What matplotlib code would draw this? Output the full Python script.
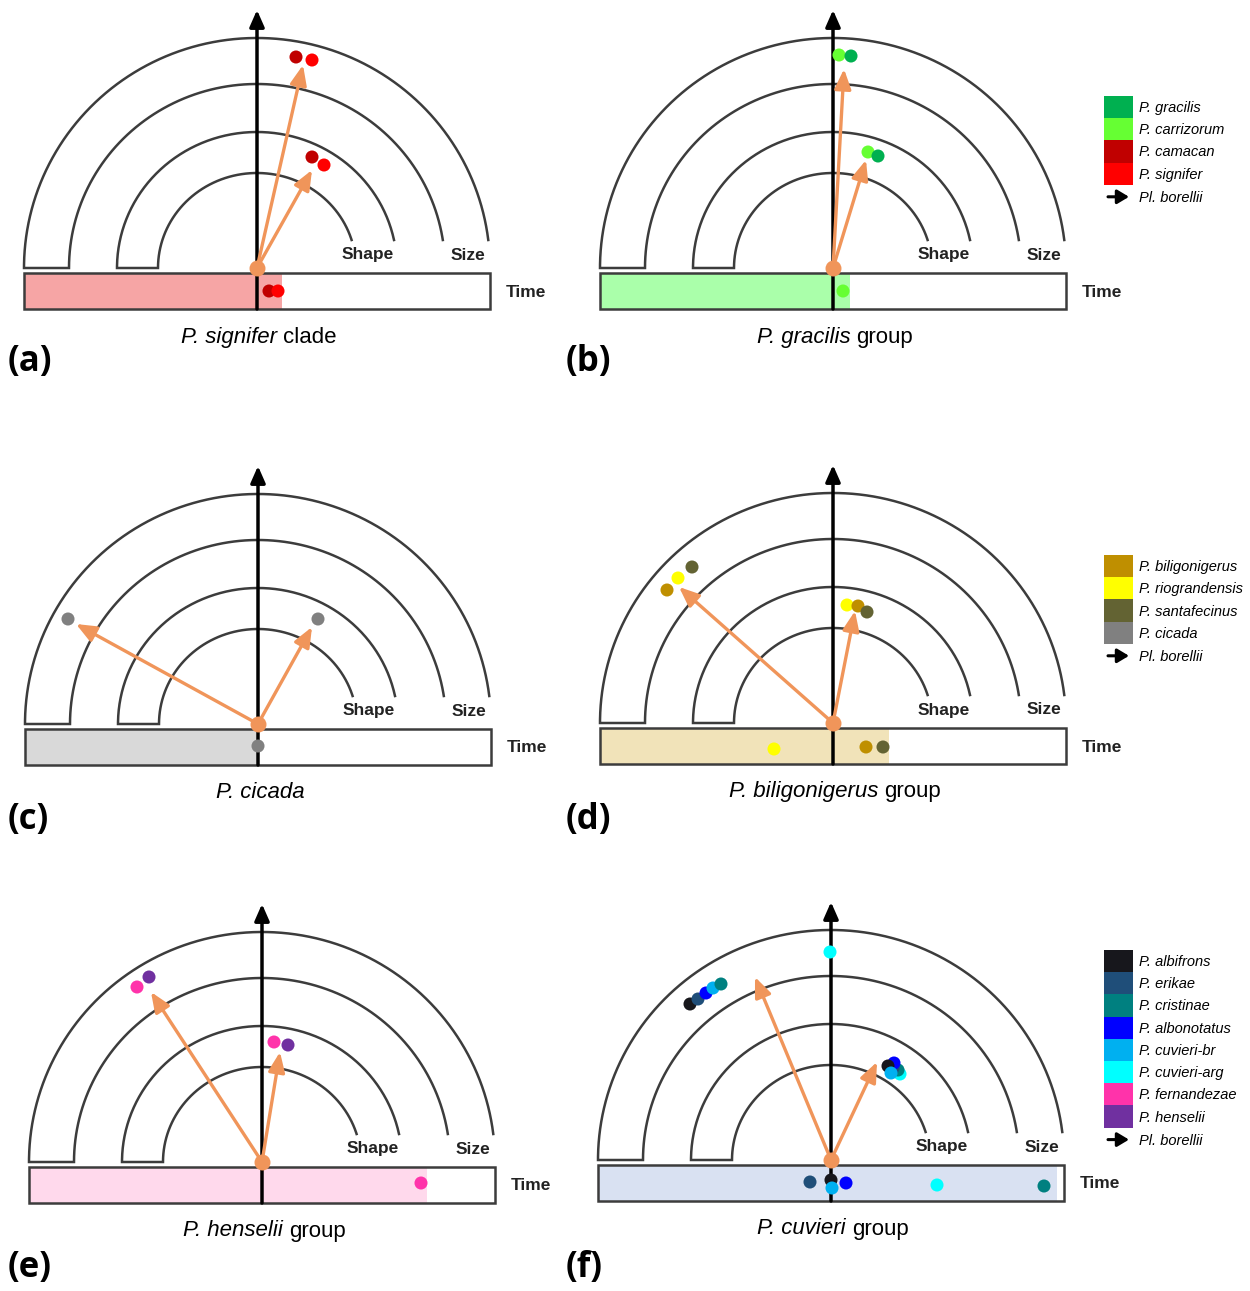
import numpy as np
import matplotlib.pyplot as plt
from matplotlib.patches import Rectangle

plt.rcParams['font.family'] = ['Liberation Sans', 'DejaVu Sans']

# species colours
species = ["P. gracilis", "P. carrizorum", "P. camacan", "P. signifer",
           "P. biligonigerus", "P. riograndensis", "P. santafecinus", "P. cicada",
           "P. albifrons", "P. erikae", "P. cristinae", "P. albonotatus",
           "P. cuvieri-br", "P. cuvieri-arg", "P. fernandezae", "P. henselii"]
sp_colors = ["#00B050", "#66FF33", "#C00000", "#FF0000",
             "#BF8F00", "#FFFF00", "#636333", "#808080",
             "#17171C", "#1F4E79", "#008080", "#0000FF",
             "#00B0F0", "#00FFFF", "#FF33AA", "#7030A0"]
color_of = dict(zip(species, sp_colors))

# (a) P. signifer clade
a_size_names = ["P. camacan", "P. signifer"]
a_size_x = [39, 55]
a_size_y = [211, 208]
a_shape_names = ["P. camacan", "P. signifer"]
a_shape_x = [55, 67]
a_shape_y = [111, 103]
a_time_names = ["P. camacan", "P. signifer"]
a_time_x = [12, 21]
a_time_y = [-23, -23]
a_arrow_x = [46, 55]
a_arrow_y = [203, 98]
a_range = 25

# (b) P. gracilis group
b_size_names = ["P. carrizorum", "P. gracilis"]
b_size_x = [6, 18]
b_size_y = [213, 212]
b_shape_names = ["P. carrizorum", "P. gracilis"]
b_shape_x = [35, 45]
b_shape_y = [116, 112]
b_time_names = ["P. carrizorum"]
b_time_x = [10]
b_time_y = [-23]
b_arrow_x = [11, 33]
b_arrow_y = [199, 108]
b_range = 17

# (c) P. cicada
c_size_names = ["P. cicada"]
c_size_x = [-190]
c_size_y = [105]
c_shape_names = ["P. cicada"]
c_shape_x = [60]
c_shape_y = [105]
c_time_names = ["P. cicada"]
c_time_x = [0]
c_time_y = [-22]
c_arrow_x = [-182, 54]
c_arrow_y = [100, 97]
c_range = 0

# (d) P. biligonigerus group
d_size_names = ["P. biligonigerus", "P. riograndensis", "P. santafecinus"]
d_size_x = [-166, -155, -141]
d_size_y = [133, 145, 156]
d_shape_names = ["P. riograndensis", "P. biligonigerus", "P. santafecinus"]
d_shape_x = [14, 25, 34]
d_shape_y = [118, 117, 111]
d_time_names = ["P. riograndensis", "P. biligonigerus", "P. santafecinus"]
d_time_x = [-59, 33, 50]
d_time_y = [-26, -24, -24]
d_arrow_x = [-154, 22]
d_arrow_y = [136, 112]
d_range = 56

# (e) P. henselii group
e_size_names = ["P. fernandezae", "P. henselii"]
e_size_x = [-125, -113]
e_size_y = [175, 185]
e_shape_names = ["P. fernandezae", "P. henselii"]
e_shape_x = [12, 26]
e_shape_y = [120, 117]
e_time_names = ["P. fernandezae"]
e_time_x = [159]
e_time_y = [-21]
e_arrow_x = [-111, 18]
e_arrow_y = [170, 110]
e_range = 165

# (f) P. cuvieri group
f_size_names = ["P. albifrons", "P. erikae", "P. albonotatus", "P. cuvieri-br",
                "P. cristinae", "P. cuvieri-arg"]
f_size_x = [-141, -133, -125, -118, -110, -1]
f_size_y = [156, 161, 167, 172, 176, 208]
f_shape_names = ["P. cuvieri-arg", "P. cristinae", "P. erikae", "P. albonotatus",
                 "P. albifrons", "P. cuvieri-br"]
f_shape_x = [69, 67, 62, 63, 57, 60]
f_shape_y = [86, 90, 92, 97, 94, 87]
f_time_names = ["P. erikae", "P. albifrons", "P. cuvieri-br", "P. albonotatus",
                "P. cuvieri-arg", "P. cristinae"]
f_time_x = [-21, 0, 1, 15, 106, 213]
f_time_y = [-22, -20, -28, -23, -25, -26]
f_arrow_x = [-76, 46]
f_arrow_y = [183, 98]
f_range = 226

titles = [("P. signifer", "clade"), ("P. gracilis", "group"),
          ("P. cicada", ""), ("P. biligonigerus", "group"),
          ("P. henselii", "group"), ("P. cuvieri", "group")]
bar_colors = ["#F6A5A5", "#AAFFAA", "#D9D9D9", "#F1E3B9", "#FFD9EC", "#D9E1F2"]
labels = ["(a)", "(b)", "(c)", "(d)", "(e)", "(f)"]

legend_b = ["P. gracilis", "P. carrizorum", "P. camacan", "P. signifer"]
legend_d = ["P. biligonigerus", "P. riograndensis", "P. santafecinus", "P. cicada"]
legend_f = ["P. albifrons", "P. erikae", "P. cristinae", "P. albonotatus",
            "P. cuvieri-br", "P. cuvieri-arg", "P. fernandezae", "P. henselii"]

W, H = 1250, 1291
fig = plt.figure(figsize=(W / 100, H / 100), dpi=100)
renderer = fig.canvas.get_renderer()

origins = [(257, 268), (833, 268), (258, 724), (833, 723), (262, 1162), (831, 1160)]
label_pos = [(8, 362), (566, 362), (8, 820), (566, 820), (8, 1268), (566, 1268)]
L, R, T, B = 255, 300, 262, 85
ring_col = "#3C3C3C"
orange = "#F0955A"
txt_col = "#222222"


def draw_ring(ax, a_in, b_in, a_out, b_out, h=28):
    t = np.linspace(np.arcsin(h / b_out), np.pi, 200)
    ti = np.linspace(np.pi, np.arcsin(h / b_in), 200)
    xs = np.r_[a_out * np.cos(t), a_in * np.cos(ti)]
    ys = np.r_[b_out * np.sin(t), b_in * np.sin(ti)]
    ax.plot(xs, ys, color=ring_col, lw=1.8, solid_joinstyle='miter', zorder=3)


def draw_title(ax, italic, rest, y=-69, fs=16):
    t1 = ax.text(0, y, italic, fontsize=fs, style='italic', ha='left', va='center')
    w1 = t1.get_window_extent(renderer).width
    gap = 0.278 * fs * 100 / 72
    w2 = 0
    t2 = None
    if rest:
        t2 = ax.text(0, y, rest, fontsize=fs, ha='left', va='center')
        w2 = t2.get_window_extent(renderer).width + gap
    x0 = 2 - (w1 + w2) / 2
    t1.set_x(x0)
    if t2 is not None:
        t2.set_x(x0 + w1 + gap)


def draw_panel(ax, sx, sy, sn, hx, hy, hn, tx, ty, tn, ax_x, ax_y, rng, bcol, title):
    # time bar
    ax.add_patch(Rectangle((-233, -41), rng + 233, 36, facecolor=bcol,
                           edgecolor='none', zorder=1))
    ax.add_patch(Rectangle((-233, -41), 466, 36, facecolor='none',
                           edgecolor=ring_col, lw=1.8, zorder=2))
    # shape and size rings
    draw_ring(ax, 99, 95, 140, 136)
    draw_ring(ax, 188, 184, 233, 230)
    # Pl. borellii axis
    ax.annotate('', xy=(0, 258), xytext=(0, -41),
                arrowprops=dict(arrowstyle='-|>,head_length=0.5,head_width=0.22',
                                color='black', lw=2.5, mutation_scale=20,
                                shrinkA=0, shrinkB=0), zorder=4)
    # mean direction arrows
    for x, y in zip(ax_x, ax_y):
        ax.annotate('', xy=(x, y), xytext=(0, 0),
                    arrowprops=dict(arrowstyle='-|>,head_length=0.6,head_width=0.25',
                                    color=orange, lw=2.4, mutation_scale=20,
                                    shrinkA=0, shrinkB=0), zorder=5)
    ax.plot([0], [0], 'o', color=orange, ms=11.5, mec='none', zorder=6)
    for xs, ys, ns in [(sx, sy, sn), (hx, hy, hn), (tx, ty, tn)]:
        ax.scatter(xs, ys, s=88, c=[color_of[n] for n in ns],
                   edgecolors='none', zorder=7)
    ax.text(111, 13, "Shape", fontsize=12.5, fontweight='bold', ha='center',
            va='center', color=txt_col)
    ax.text(211, 13, "Size", fontsize=12.5, fontweight='bold', ha='center',
            va='center', color=txt_col)
    ax.text(249, -24, "Time", fontsize=12.5, fontweight='bold', ha='left',
            va='center', color=txt_col)
    draw_title(ax, *title)


panel_data = [
    (a_size_x, a_size_y, a_size_names, a_shape_x, a_shape_y, a_shape_names,
     a_time_x, a_time_y, a_time_names, a_arrow_x, a_arrow_y, a_range),
    (b_size_x, b_size_y, b_size_names, b_shape_x, b_shape_y, b_shape_names,
     b_time_x, b_time_y, b_time_names, b_arrow_x, b_arrow_y, b_range),
    (c_size_x, c_size_y, c_size_names, c_shape_x, c_shape_y, c_shape_names,
     c_time_x, c_time_y, c_time_names, c_arrow_x, c_arrow_y, c_range),
    (d_size_x, d_size_y, d_size_names, d_shape_x, d_shape_y, d_shape_names,
     d_time_x, d_time_y, d_time_names, d_arrow_x, d_arrow_y, d_range),
    (e_size_x, e_size_y, e_size_names, e_shape_x, e_shape_y, e_shape_names,
     e_time_x, e_time_y, e_time_names, e_arrow_x, e_arrow_y, e_range),
    (f_size_x, f_size_y, f_size_names, f_shape_x, f_shape_y, f_shape_names,
     f_time_x, f_time_y, f_time_names, f_arrow_x, f_arrow_y, f_range),
]

for i, (ox, oy) in enumerate(origins):
    ax = fig.add_axes([(ox - L) / W, 1 - (oy + B) / H, (L + R) / W, (T + B) / H])
    ax.set_xlim(-L, R)
    ax.set_ylim(-B, T)
    ax.axis('off')
    ax.patch.set_visible(False)
    draw_panel(ax, *panel_data[i], bar_colors[i], titles[i])
    fig.text(label_pos[i][0] / W, 1 - label_pos[i][1] / H, labels[i],
             fontsize=25, fontweight='bold', family=['Open Sans', 'DejaVu Sans'],
             ha='left', va='center')

# legends (figure pixel coordinates)
lax = fig.add_axes([0, 0, 1, 1])
lax.set_xlim(0, W)
lax.set_ylim(H, 0)
lax.axis('off')
lax.patch.set_visible(False)
for names, top in [(legend_b, 96), (legend_d, 555), (legend_f, 950)]:
    row = 22.2
    for k, n in enumerate(names):
        y0 = top + k * row
        lax.add_patch(Rectangle((1104, y0), 29, row, facecolor=color_of[n],
                                edgecolor='none'))
        lax.text(1139, y0 + row / 2 + 1, n, fontsize=10.5, style='italic',
                 ha='left', va='center')
    ya = top + len(names) * row + 12
    lax.annotate('', xy=(1129, ya), xytext=(1108, ya),
                 arrowprops=dict(arrowstyle='-|>,head_length=0.5,head_width=0.3',
                                 color='black', lw=2.2, mutation_scale=14,
                                 shrinkA=0, shrinkB=0))
    lax.text(1139, ya + 1, "Pl. borellii", fontsize=10.5, style='italic',
             ha='left', va='center')

fig.savefig("out.png", dpi=100)
